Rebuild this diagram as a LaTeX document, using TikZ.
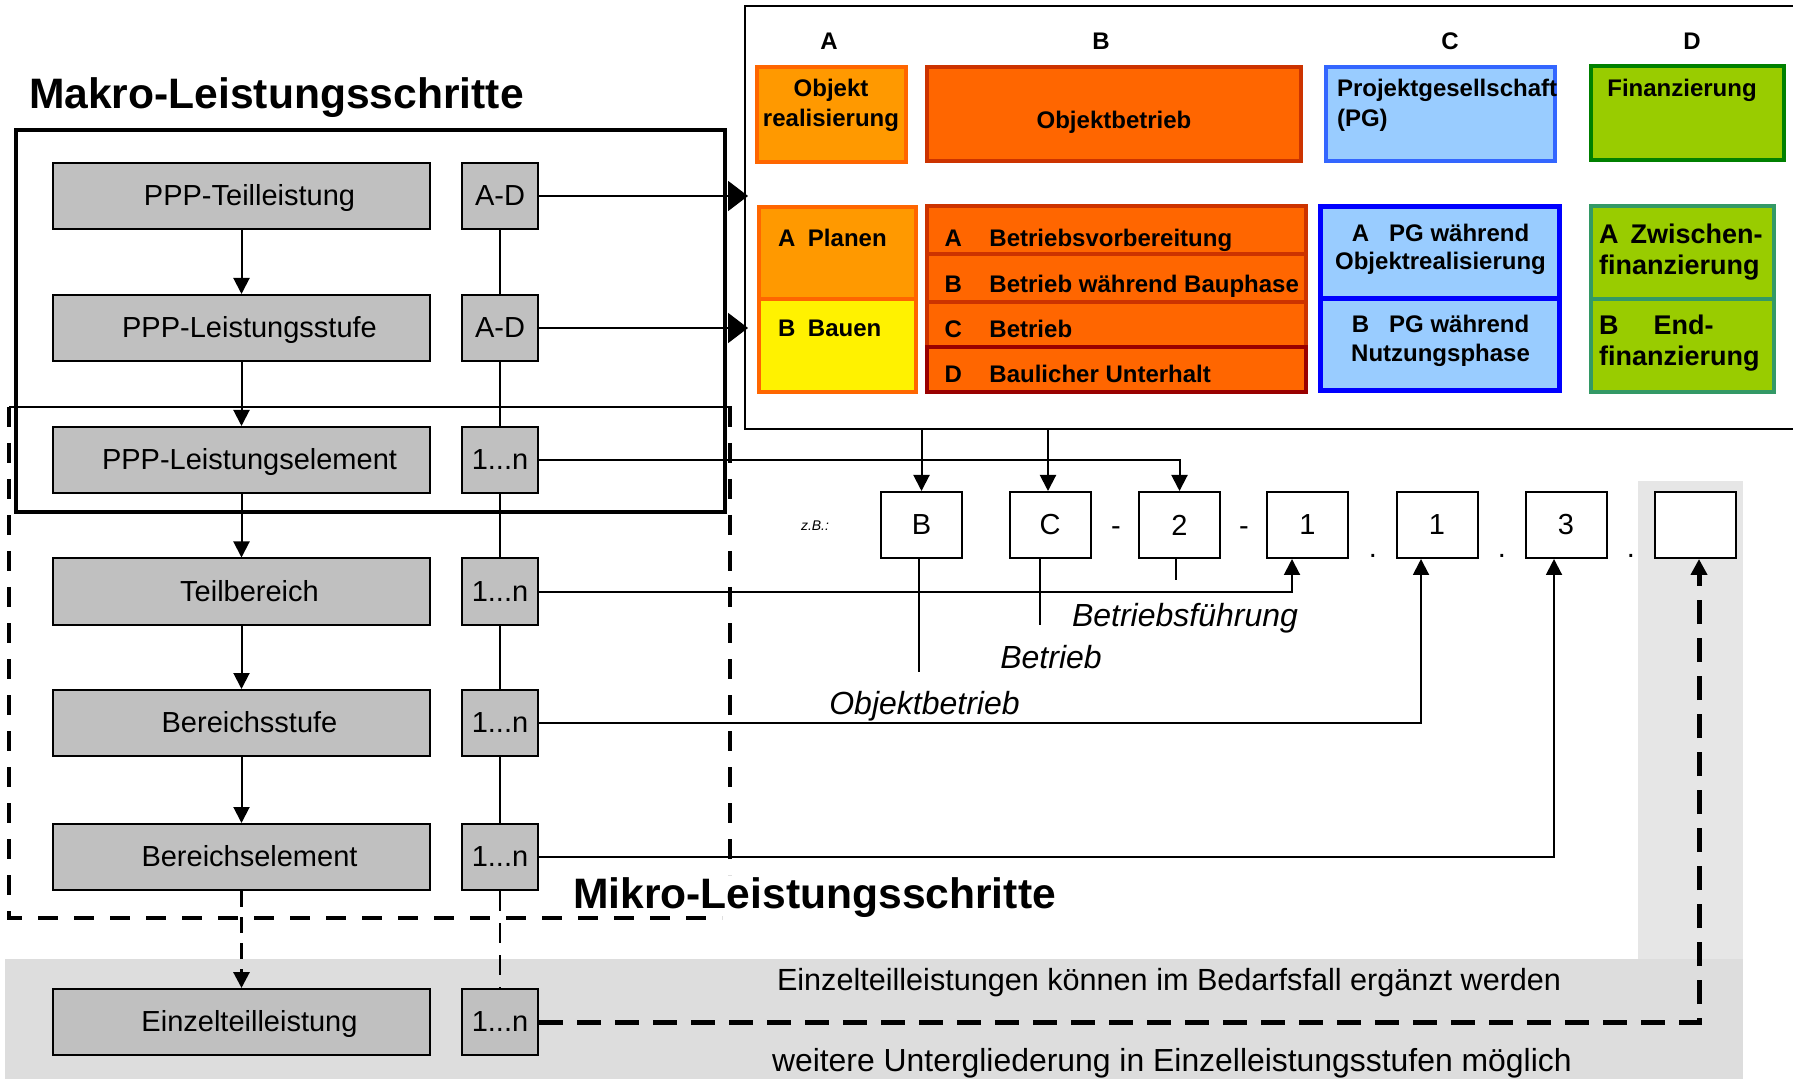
\documentclass[tikz,border=0pt]{standalone}
\usepackage{fontspec}
\setmainfont{Liberation Sans}
\usepackage{tikz}
\usetikzlibrary{arrows.meta}

\definecolor{orng}{HTML}{FF9900}
\definecolor{rorng}{HTML}{FF6600}
\definecolor{dred}{HTML}{CC3300}
\definecolor{ddred}{HTML}{990000}
\definecolor{lblue}{HTML}{99CCFF}
\definecolor{mblue}{HTML}{3366FF}
\definecolor{fblue}{HTML}{0000FF}
\definecolor{lgreen}{HTML}{99CC00}
\definecolor{dgreen}{HTML}{008000}
\definecolor{sgreen}{HTML}{339966}
\definecolor{greybox}{HTML}{C0C0C0}
\definecolor{band}{HTML}{DDDDDD}
\definecolor{strip}{HTML}{E6E6E6}

\begin{document}
\begin{tikzpicture}[x=0.5pt, y=-0.5pt, line width=1pt,
    >={Triangle[length=8pt,width=8pt]},
    big/.style={-{Triangle[length=10pt,width=15pt]}},
    grey/.style={draw, fill=greybox, minimum width=188.5pt, minimum height=33pt, inner sep=0pt, text height=9.7pt, text depth=0pt, execute at begin node=\hspace*{8pt}, font=\fontsize{14.5}{17}\selectfont},
    num/.style={draw, fill=greybox, minimum width=38pt, minimum height=33pt, inner sep=0pt, text height=9.7pt, text depth=0pt, font=\fontsize{14.5}{17}\selectfont},
    code/.style={draw, fill=white, minimum width=40.5pt, minimum height=33pt, inner sep=0pt, font=\fontsize{14.5}{17}\selectfont},
    cell/.style={inner sep=0pt, line width=2pt},
    ptxt/.style={inner sep=0pt, font=\fontsize{12}{14}\selectfont\bfseries},
    dtxt/.style={inner sep=0pt, font=\fontsize{13.5}{15}\selectfont\bfseries},
    itl/.style={inner sep=0pt, font=\fontsize{16}{18}\selectfont\itshape},
    plain/.style={inner sep=0pt, font=\fontsize{14.5}{17}\selectfont},
    title/.style={inner sep=0pt, font=\fontsize{21.3}{24}\selectfont\bfseries},
    bigdash/.style={line width=2pt, dash pattern=on 10pt off 8pt},
    seqdash/.style={line width=2.5pt, dash pattern=on 12pt off 7pt}]

    \useasboundingbox (0, 0) rectangle (1793, 1079);

    % grey background
    \fill[band] (5, 959) rectangle (1743, 1079);
    \fill[strip] (1638, 481) rectangle (1743, 959);

    % frames
    \draw[line width=2pt] (16, 130.5) rectangle (725, 512);
    \draw (9, 407) -- (732, 407);
    \draw[bigdash] (9, 407) -- (9, 918) -- (722, 918);
    \draw[bigdash] (730, 407) -- (730, 875);
    \draw[line width=1.2pt] (1800, 6) -- (745, 6) -- (745, 429) -- (1800, 429);

    \coordinate (R1) at (748, 196);
    \coordinate (R2) at (748, 328);
    \coordinate (Q1) at (921.5, 429);
    \coordinate (Q2) at (1048, 429);
    \coordinate (L1) at (919.3, 672);
    \coordinate (L2) at (1040, 624.5);
    \coordinate (L3) at (1176, 580);

    % steps
    \node[grey] (G1) at (241.5, 196) {PPP-Teilleistung};
    \node[grey] (G2) at (241.5, 328) {PPP-Leistungsstufe};
    \node[grey] (G3) at (241.5, 460) {PPP-Leistungselement};
    \node[grey] (G4) at (241.5, 591.5) {Teilbereich};
    \node[grey] (G5) at (241.5, 723) {Bereichsstufe};
    \node[grey] (G6) at (241.5, 857) {Bereichselement};
    \node[grey] (G7) at (241.5, 1022) {Einzelteilleistung};

    \node[num] (N1) at (500, 196) {A-D};
    \node[num] (N2) at (500, 328) {A-D};
    \node[num] (N3) at (500, 460) {1...n};
    \node[num] (N4) at (500, 591.5) {1...n};
    \node[num] (N5) at (500, 723) {1...n};
    \node[num] (N6) at (500, 857) {1...n};
    \node[num] (N7) at (500, 1022) {1...n};

    % panel
    \node[cell, draw=rorng, fill=orng, minimum width=74.5pt, minimum height=47.5pt] (PA) at (831.5, 114.5) {};
    \node[cell, draw=dred, fill=rorng, minimum width=187pt, minimum height=47pt] (PB) at (1114, 114) {};
    \node[cell, draw=mblue, fill=lblue, minimum width=114.5pt, minimum height=47pt] (PC) at (1440.5, 114) {};
    \node[cell, draw=dgreen, fill=lgreen, minimum width=96.5pt, minimum height=47pt] (PD) at (1687.5, 113) {};

    \node[cell, draw=rorng, fill=orng, minimum width=78.5pt, minimum height=46.25pt] (A1) at (837.5, 253) {};
    \node[cell, draw=rorng, fill=yellow, minimum width=78.5pt, minimum height=46.25pt] (A2) at (837.5, 345.75) {};
    \node[cell, draw=dred, fill=rorng, minimum width=189.5pt, minimum height=24pt] (B1) at (1116.5, 230) {};
    \node[cell, draw=dred, fill=rorng, minimum width=189.5pt, minimum height=24pt] (B2) at (1116.5, 278) {};
    \node[cell, draw=dred, fill=rorng, minimum width=189.5pt, minimum height=22.5pt] (B3) at (1116.5, 324.5) {};
    \node[cell, draw=ddred, fill=rorng, minimum width=189.5pt, minimum height=22.5pt] (B4) at (1116.5, 369.5) {};
    \node[cell, draw=fblue, fill=lblue, line width=2.5pt, minimum width=119.5pt, minimum height=46pt] (C1) at (1439.5, 253) {};
    \node[cell, draw=fblue, fill=lblue, line width=2.5pt, minimum width=119.5pt, minimum height=46pt] (C2) at (1439.5, 345) {};
    \node[cell, draw=sgreen, fill=lgreen, minimum width=91.5pt, minimum height=46.5pt] (D1) at (1682.5, 252.5) {};
    \node[cell, draw=sgreen, fill=lgreen, minimum width=91.5pt, minimum height=46.5pt] (D2) at (1682.5, 345.5) {};

    % code
    \node[code] (K1) at (921.5, 525) {B};
    \node[code] (K2) at (1050, 525) {C};
    \node[code] (K3) at (1179.5, 525) {2};
    \node[code] (K4) at (1307.5, 525) {1};
    \node[code] (K5) at (1437, 525) {1};
    \node[code] (K6) at (1566, 525) {3};
    \node[code] (K7) at (1695, 525) {};

    % connectors
    \draw[->] (G1) -- (G2);
    \draw[->] (G2) -- (G3);
    \draw[->] (G3) -- (G4);
    \draw[->] (G4) -- (G5);
    \draw[->] (G5) -- (G6);
    \draw[->, line width=1.5pt, dash pattern=on 8pt off 5pt] (G6) -- (G7);
    \draw (N1) -- (N2);
    \draw (N2) -- (N3);
    \draw (N3) -- (N4);
    \draw (N4) -- (N5);
    \draw (N5) -- (N6);
    \draw[dash pattern=on 10pt off 6pt] (N6) -- (N7);

    \draw[big] (N1.east) -- (R1);
    \draw[big] (N2.east) -- (R2);
    \draw[->] (Q1) -- (Q1 |- K1.north);
    \draw[->] (Q2) -- (Q2 |- K2.north);
    \draw[->] (N3.east) -| (K3.north);
    \draw[->] (N4.east) -| ([xshift=-7.75pt]K4.south);
    \draw[->] (N5.east) -| ([xshift=-8pt]K5.south);
    \draw[->] (N6.east) -| ([xshift=-6pt]K6.south);
    \draw[->, seqdash] (N7.east) -| ([xshift=2pt]K7.south);
    \draw (L1 |- K1.south) -- (L1);
    \draw (L2 |- K2.south) -- (L2);
    \draw (L3 |- K3.south) -- (L3);

%labels
    \node[title, anchor=base west] (T1) at (28, 109) {Makro-Leistungsschritte};
    \node[title, anchor=base west] (T2) at (572, 908) {Mikro-Leistungsschritte};

    \node[ptxt, anchor=base] (HA) at (829, 50) {A};
    \node[ptxt, anchor=base] (HB) at (1101, 50) {B};
    \node[ptxt, anchor=base] (HC) at (1450, 50) {C};
    \node[ptxt, anchor=base] (HD) at (1692, 50) {D};

    \node[ptxt, anchor=base] (PA1) at (831, 96.7) {Objekt};
    \node[ptxt, anchor=base] (PA2) at (831, 126.7) {realisierung};
    \node[ptxt, anchor=base] (PB1) at (1114, 128.3) {Objektbetrieb};
    \node[ptxt, anchor=base west] (PC1) at (1336, 96.7) {Projektgesellschaft};
    \node[ptxt, anchor=base west] (PC2) at (1336, 126.7) {(PG)};
    \node[ptxt, anchor=base] (PD1) at (1682, 96.7) {Finanzierung};

    \node[ptxt, anchor=base west] (A1t) at (777, 246.7) {\makebox[15pt][l]{A}Planen};
    \node[ptxt, anchor=base west] (A2t) at (777, 336.7) {\makebox[15pt][l]{B}Bauen};
    \node[ptxt, anchor=base west] (B1t) at (943.5, 247) {\makebox[22.5pt][l]{A}Betriebsvorbereitung};
    \node[ptxt, anchor=base west] (B2t) at (943.5, 293) {\makebox[22.5pt][l]{B}Betrieb während Bauphase};
    \node[ptxt, anchor=base west] (B3t) at (943.5, 338) {\makebox[22.5pt][l]{C}Betrieb};
    \node[ptxt, anchor=base west] (B4t) at (943.5, 383) {\makebox[22.5pt][l]{D}Baulicher Unterhalt};
    \node[ptxt, anchor=base] (C1t) at (1440.5, 242) {A\hspace{10pt}PG während};
    \node[ptxt, anchor=base] (C1u) at (1440.5, 270) {Objektrealisierung};
    \node[ptxt, anchor=base] (C2t) at (1440.5, 333) {B\hspace{10pt}PG während};
    \node[ptxt, anchor=base] (C2u) at (1440.5, 361.7) {Nutzungsphase};
    \node[dtxt, anchor=base west] (D1t) at (1598, 243.3) {A\hspace{6pt}Zwischen-};
    \node[dtxt, anchor=base west] (D1u) at (1598, 274.5) {finanzierung};
    \node[dtxt, anchor=base west] (D2t) at (1598, 334.3) {B\hspace{17.5pt}End-};
    \node[dtxt, anchor=base west] (D2u) at (1598, 366) {finanzierung};

    \node[inner sep=0pt, font=\fontsize{7}{8}\selectfont\itshape] (ZB) at (815, 526) {z.B.:};
    \node[plain, anchor=base] (S1) at (1116, 536) {-};
    \node[plain, anchor=base] (S2) at (1244, 536) {-};
    \node[plain, anchor=base] (S3) at (1373, 558) {.};
    \node[plain, anchor=base] (S4) at (1502, 558) {.};
    \node[plain, anchor=base] (S5) at (1631, 558) {.};

    \node[itl, anchor=base] (LO) at (924.5, 714) {Objektbetrieb};
    \node[itl, anchor=base] (LB) at (1051, 668) {Betrieb};
    \node[itl, anchor=base] (LF) at (1185, 626) {Betriebsführung};

    \node[plain, font=\fontsize{15.3}{18}\selectfont, anchor=base west] (E1) at (776, 990) {Einzelteilleistungen können im Bedarfsfall ergänzt werden};
    \node[plain, font=\fontsize{15.95}{18}\selectfont, anchor=base west] (E2) at (771, 1071.6) {weitere Untergliederung in Einzelleistungsstufen möglich};

\end{tikzpicture}
\end{document}
